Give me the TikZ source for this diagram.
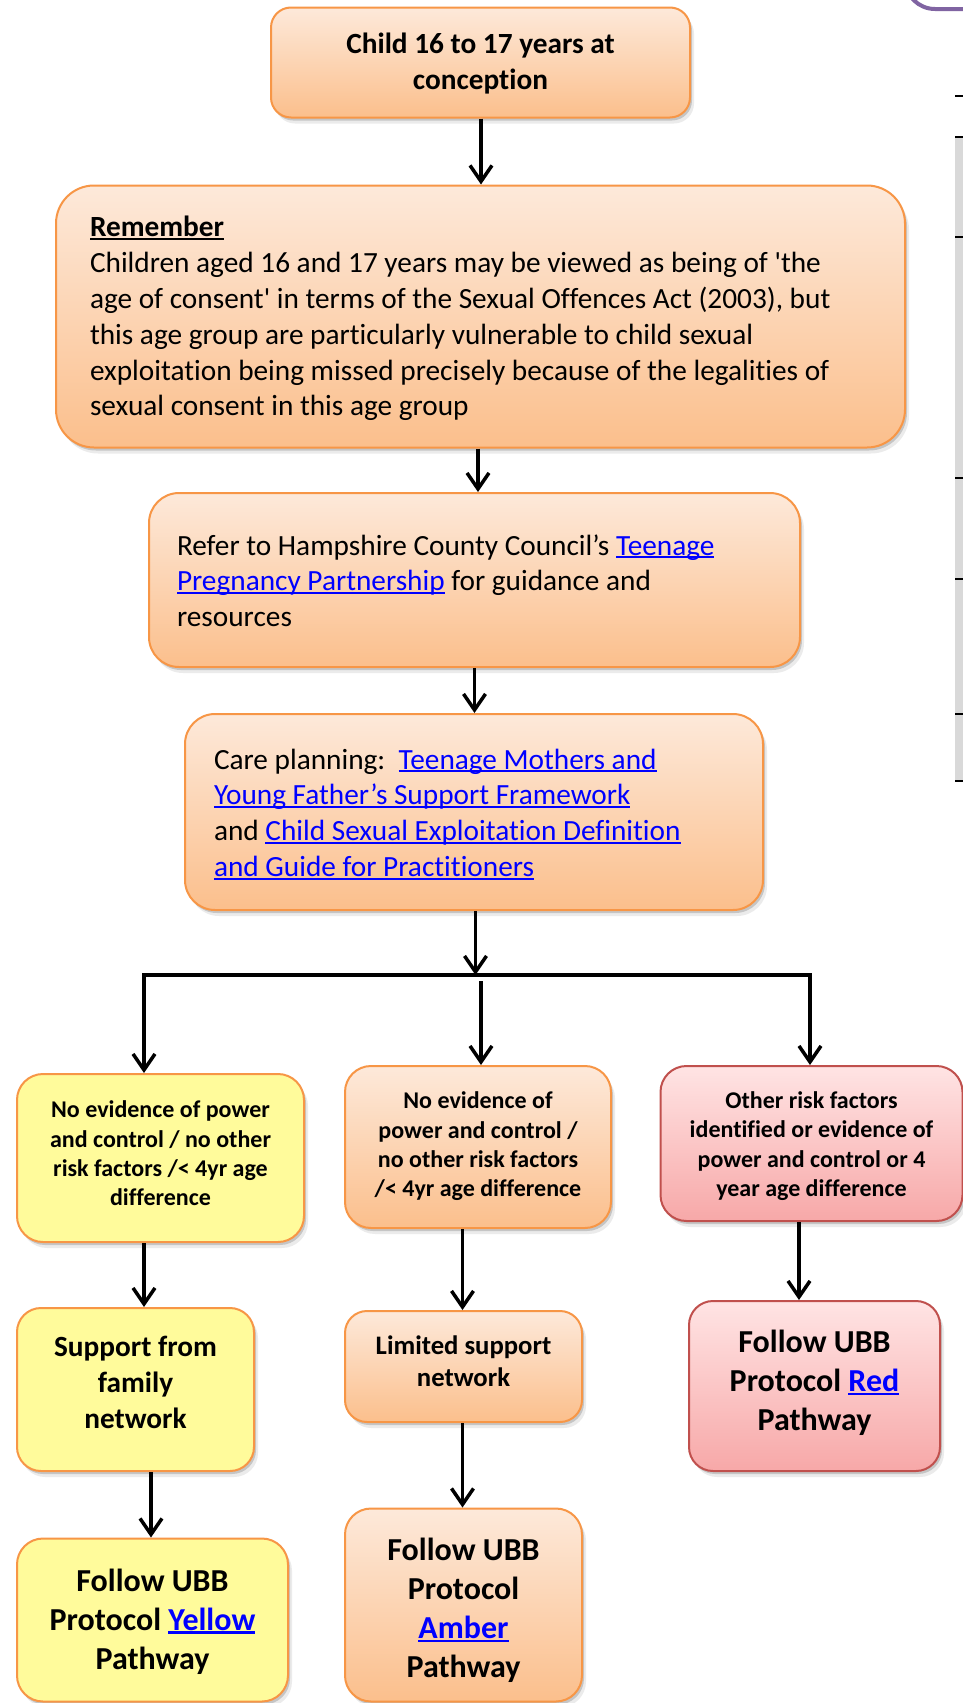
\documentclass[tikz,border=0pt]{standalone}
\usepackage{fontspec}
\setmainfont{Carlito}[Ligatures={TeXOff,NoCommon}]
\usetikzlibrary{arrows.meta,shadows}

\definecolor{ostroke}{RGB}{247,150,70}
\definecolor{otop}{RGB}{253,233,218}
\definecolor{obot}{RGB}{251,191,140}
\definecolor{yfill}{RGB}{255,251,155}
\definecolor{rstroke}{RGB}{192,80,77}
\definecolor{rtop}{RGB}{255,228,228}
\definecolor{rbot}{RGB}{247,168,168}
\definecolor{linkblue}{RGB}{0,0,255}
\definecolor{tabgray}{RGB}{217,217,217}
\definecolor{framepurple}{RGB}{128,100,162}

% underline at a fixed depth below the baseline
\newcommand\ulbox[1]{\leavevmode\setbox0=\hbox{#1}\rlap{\rule[-0.11em]{\wd0}{0.065em}}\box0}
\newcommand\lnk[1]{\leavevmode{\color{linkblue}\ulbox{#1}}}

% centred / left-aligned text blocks, drawn raised by the given amount
% while keeping their natural height and depth for the box layout
\newcommand\ctext[2]{\raisebox{#1}[\height][\depth]{\begin{tabular}{@{}c@{}}#2\end{tabular}}}
\newcommand\ltext[3]{\raisebox{#2}[\height][\depth]{\begin{tabular}{@{}p{#1}@{}}#3\end{tabular}}}

\newcommand\fsBody{\fontsize{29.3}{35.8}\selectfont}
\newcommand\fsSmall{\fontsize{24}{29.3}\selectfont}
\newcommand\fsMid{\fontsize{26.7}{32.6}\selectfont}
\newcommand\fsBig{\fontsize{32}{39}\selectfont}

\tikzset{
  soft/.style={
    drop shadow={shadow xshift=2pt,shadow yshift=-3pt,opacity=.16,fill=black},
    drop shadow={shadow xshift=4pt,shadow yshift=-6pt,opacity=.08,fill=black}},
  card/.style={rectangle, rounded corners=#1, line width=2pt, inner sep=0pt, soft},
  obox/.style={card=#1, draw=ostroke, top color=otop, bottom color=obot},
  ybox/.style={card=#1, draw=ostroke, fill=yfill},
  rbox/.style={card=#1, draw=rstroke, top color=rtop, bottom color=rbot},
  arr/.style={line width=3.5pt, -{Straight Barb[length=16pt,width=22pt,line width=3.5pt]}},
  bar/.style={line width=3.5pt, line cap=rect},
}

\begin{document}
\begin{tikzpicture}[x=1pt,y=-1pt]
  \useasboundingbox (0,0) rectangle (963,1703);
  \fill[white] (0,0) rectangle (963,1703);
  \clip (0,0) rectangle (963,1703);

  % frame corner and table edge at the right margin
  \draw[framepurple, line width=4pt, rounded corners=30pt] (905,-60) -- (905,9) -- (1000,9);
  \fill[tabgray] (955,137) rectangle (963,781);
  \foreach \yy in {96,137,237,478,579,714,781}
    \draw[line width=2pt] (955,\yy) -- (963,\yy);

  % main column
  \node[obox=20pt, minimum width=419pt, minimum height=110pt,
        font=\fsBody\bfseries] (b1) at (480.5,62.5)
    {\ctext{-1.6pt}{Child 16 to 17 years at\\conception}};

  \node[obox=38pt, minimum width=849pt, minimum height=262pt,
        font=\fsBody] (b2) at (480.5,316.5)
    {\ltext{781pt}{-2.7pt}{\textbf{\ulbox{Remember}}\\
     Children aged 16 and 17 years may be viewed as being of 'the\\
     age of consent' in terms of the Sexual Offences Act (2003), but\\
     this age group are particularly vulnerable to child sexual\\
     exploitation being missed precisely because of the legalities of\\
     sexual consent in this age group}};

  \node[obox=30pt, minimum width=651pt, minimum height=174pt,
        font=\fsBody] (b3) at (474.5,580)
    {\ltext{595pt}{-3.8pt}{Refer to Hampshire County Council’s \lnk{Teenage}\\
     \lnk{Pregnancy Partnership} for guidance and\\
     resources}};

  \node[obox=30pt, minimum width=578pt, minimum height=196pt,
        font=\fsBody] (b4) at (474,812)
    {\ltext{520pt}{-3.6pt}{Care planning:\ \ \lnk{Teenage Mothers and}\\
     \lnk{Young Father’s Support Framework}\\
     and \lnk{Child Sexual Exploitation Definition}\\
     \lnk{and Guide for Practitioners}}};

  % three outcome columns
  \node[ybox=26pt, minimum width=287pt, minimum height=168pt,
        font=\fsSmall\bfseries] (y1) at (160.5,1158)
    {\ctext{2.2pt}{No evidence of power\\and control / no other\\risk factors /< 4yr age\\difference}};
  \node[obox=26pt, minimum width=266pt, minimum height=162pt,
        font=\fsSmall\bfseries] (a1) at (478,1147)
    {\ctext{0pt}{No evidence of\\power and control /\\no other risk factors\\/< 4yr age difference}};
  \node[rbox=26pt, minimum width=302pt, minimum height=155pt,
        font=\fsSmall\bfseries] (r1) at (811.5,1143.5)
    {\ctext{-3pt}{Other risk factors\\identified or evidence of\\power and control or 4\\year age difference}};

  \node[ybox=24pt, minimum width=237pt, minimum height=163pt,
        font=\fsBody\bfseries] (y2) at (135.5,1389.5)
    {\ctext{4.3pt}{Support from\\family\\network}};
  \node[obox=22pt, minimum width=237pt, minimum height=111pt,
        font=\fsMid\bfseries] (a2) at (463.5,1366.5)
    {\ctext{2.7pt}{Limited support\\network}};
  \node[rbox=24pt, minimum width=251pt, minimum height=170pt,
        font=\fsBig\bfseries] (r2) at (814.5,1386)
    {\ctext{2.7pt}{Follow UBB\\Protocol \lnk{Red}\\Pathway}};

  \node[ybox=26pt, minimum width=271pt, minimum height=163pt,
        font=\fsBig\bfseries] (y3) at (152.5,1620)
    {\ctext{-2.2pt}{Follow UBB\\Protocol \lnk{Yellow}\\Pathway}};
  \node[obox=26pt, minimum width=237pt, minimum height=193pt,
        font=\fsBig\bfseries] (a3) at (463.5,1605)
    {\ctext{-6.5pt}{Follow UBB\\Protocol\\\lnk{Amber}\\Pathway}};

  % connectors
  \coordinate (split) at (475.5,975);
  \coordinate (bl) at (144,975);
  \coordinate (br) at (810,975);
  \coordinate (mtop) at (481,981);
  \coordinate (rx) at (799,0);
  \coordinate (yx) at (151,0);
  \coordinate (ax) at (462.5,0);

  \draw[arr] (b1.south -| mtop) -- (mtop |- b2.north);
  \draw[arr] ([xshift=-2.5pt]b2.south) -- ([xshift=-2.5pt]b2.south |- b3.north);
  \draw[arr] (b3.south) -- (b3.south |- b4.north);
  \draw[arr] (b4.south -| split) -- (split);
  \draw[bar] (bl) -- (br);
  \draw[arr] (bl) -- (bl |- y1.north);
  \draw[arr] (mtop) -- (mtop |- a1.north);
  \draw[arr] (br) -- (br |- r1.north);

  \draw[arr] (y1.south -| bl) -- (bl |- y2.north);
  \draw[arr] (y2.south -| yx) -- (yx |- y3.north);
  \draw[arr] (a1.south -| ax) -- (ax |- a2.north);
  \draw[arr] (a2.south -| ax) -- (ax |- a3.north);
  \draw[arr] (r1.south -| rx) -- (rx |- r2.north);
\end{tikzpicture}
\end{document}
